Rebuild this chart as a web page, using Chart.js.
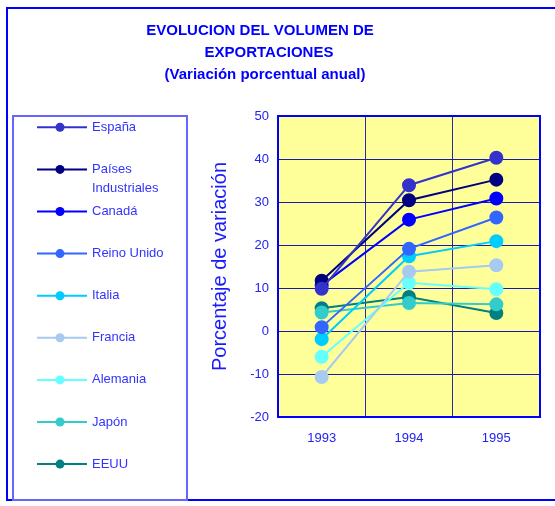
<!DOCTYPE html>
<html>
<head>
<meta charset="utf-8">
<script src="https://cdn.jsdelivr.net/npm/chart.js@4"></script>
<style>
  html, body { margin: 0; padding: 0; background: #fff; }
  #wrap { width: 555px; height: 506px; position: relative; }
</style>
</head>
<body>
<div id="wrap"><canvas id="c"></canvas></div>
<script>
// data
const years = ["1993", "1994", "1995"];
const espana = [9.8, 33.9, 40.3];
const paisesInd = [11.7, 30.4, 35.2];
const canada = [10.6, 25.9, 30.8];
const reinoUnido = [0.9, 19.1, 26.4];
const italia = [-1.9, 17.4, 20.9];
const francia = [-10.7, 13.8, 15.3];
const alemania = [-6.0, 11.2, 9.7];
const japon = [4.3, 6.5, 6.2];
const eeuu = [5.3, 7.9, 4.2];
const yTicks = [-20, -10, 0, 10, 20, 30, 40, 50];

const seriesNames = ["España", "Países\nIndustriales", "Canadá", "Reino Unido", "Italia", "Francia", "Alemania", "Japón", "EEUU"];
const seriesValues = [espana, paisesInd, canada, reinoUnido, italia, francia, alemania, japon, eeuu];
const seriesColors = ["#3333CC", "#000080", "#0000FF", "#3366FF", "#00CCFF", "#A6CAF0", "#66FFFF", "#33CCCC", "#008080"];

const FONT = "Arial, 'Liberation Sans', sans-serif";

// background, frames, title and legend
const decor = {
  id: "decor",
  beforeDraw(chart) {
    const ctx = chart.ctx, a = chart.chartArea;
    ctx.save();
    ctx.fillStyle = "#FFFF99";
    ctx.fillRect(a.left, a.top, a.right - a.left, a.bottom - a.top);
    ctx.restore();
  },
  afterDraw(chart) {
    const ctx = chart.ctx, a = chart.chartArea;
    ctx.save();
    // plot frame
    ctx.strokeStyle = "#0000FF";
    ctx.lineWidth = 2;
    ctx.strokeRect(a.left, a.top, a.right - a.left, a.bottom - a.top);

    // outer frame
    ctx.beginPath();
    ctx.moveTo(555, 8); ctx.lineTo(7, 8); ctx.lineTo(7, 500); ctx.lineTo(555, 500);
    ctx.stroke();

    // legend box
    ctx.strokeStyle = "#6666FF";
    ctx.strokeRect(13, 116, 174, 384);

    // title
    ctx.fillStyle = "#0000FF";
    ctx.font = "bold 15px " + FONT;
    ctx.textAlign = "center";
    ctx.textBaseline = "middle";
    ctx.fillText("EVOLUCION DEL VOLUMEN DE", 260, 31);
    ctx.fillText("EXPORTACIONES", 269, 53);
    ctx.fillText("(Variación porcentual anual)", 265, 75);

    // legend items
    ctx.font = "13px " + FONT;
    ctx.textAlign = "left";
    let y = 127.3;
    chart.data.datasets.forEach((ds) => {
      ctx.strokeStyle = ds.borderColor;
      ctx.lineWidth = 2;
      ctx.beginPath();
      ctx.moveTo(37, y); ctx.lineTo(87, y);
      ctx.stroke();
      ctx.fillStyle = ds.backgroundColor;
      ctx.beginPath();
      ctx.arc(60, y, 4.5, 0, Math.PI * 2);
      ctx.fill();
      ctx.fillStyle = "#3333FF";
      const lines = ds.label.split("\n");
      lines.forEach((t, i) => ctx.fillText(t, 92, y + i * 19));
      y += 42.1;
    });
    ctx.restore();
  }
};

new Chart(document.getElementById("c"), {
  type: "line",
  data: {
    labels: years,
    datasets: seriesValues.map((vals, i) => ({
      label: seriesNames[i],
      data: vals,
      borderColor: seriesColors[i],
      backgroundColor: seriesColors[i],
      pointBackgroundColor: seriesColors[i],
      pointBorderColor: seriesColors[i],
      pointRadius: 6,
      borderWidth: 2,
      tension: 0
    }))
  },
  options: {
    responsive: true,
    maintainAspectRatio: false,
    animation: false,
    layout: { padding: { left: 208, right: 15, top: 116, bottom: 59 } },
    plugins: { legend: { display: false }, tooltip: { enabled: false } },
    scales: {
      x: {
        offset: true,
        afterFit: (s) => { s.height = 30; },
        grid: { offset: true, color: "#2a2aa8", lineWidth: 1, drawTicks: false },
        border: { display: false },
        ticks: { color: "#2222EE", font: { size: 13, family: FONT }, padding: 14 }
      },
      y: {
        min: -20,
        max: 50,
        afterFit: (s) => { s.width = 70; },
        afterBuildTicks: (s) => { s.ticks = yTicks.map((v) => ({ value: v })); },
        grid: { color: "#1a1aa8", lineWidth: 1, drawTicks: false },
        border: { display: false },
        ticks: { color: "#2222EE", font: { size: 13, family: FONT }, padding: 9 },
        title: {
          display: true,
          text: "Porcentaje de variación",
          color: "#1a1aff",
          font: { size: 20, family: FONT },
          padding: 0
        }
      }
    }
  },
  plugins: [decor]
});
</script>
</body>
</html>
